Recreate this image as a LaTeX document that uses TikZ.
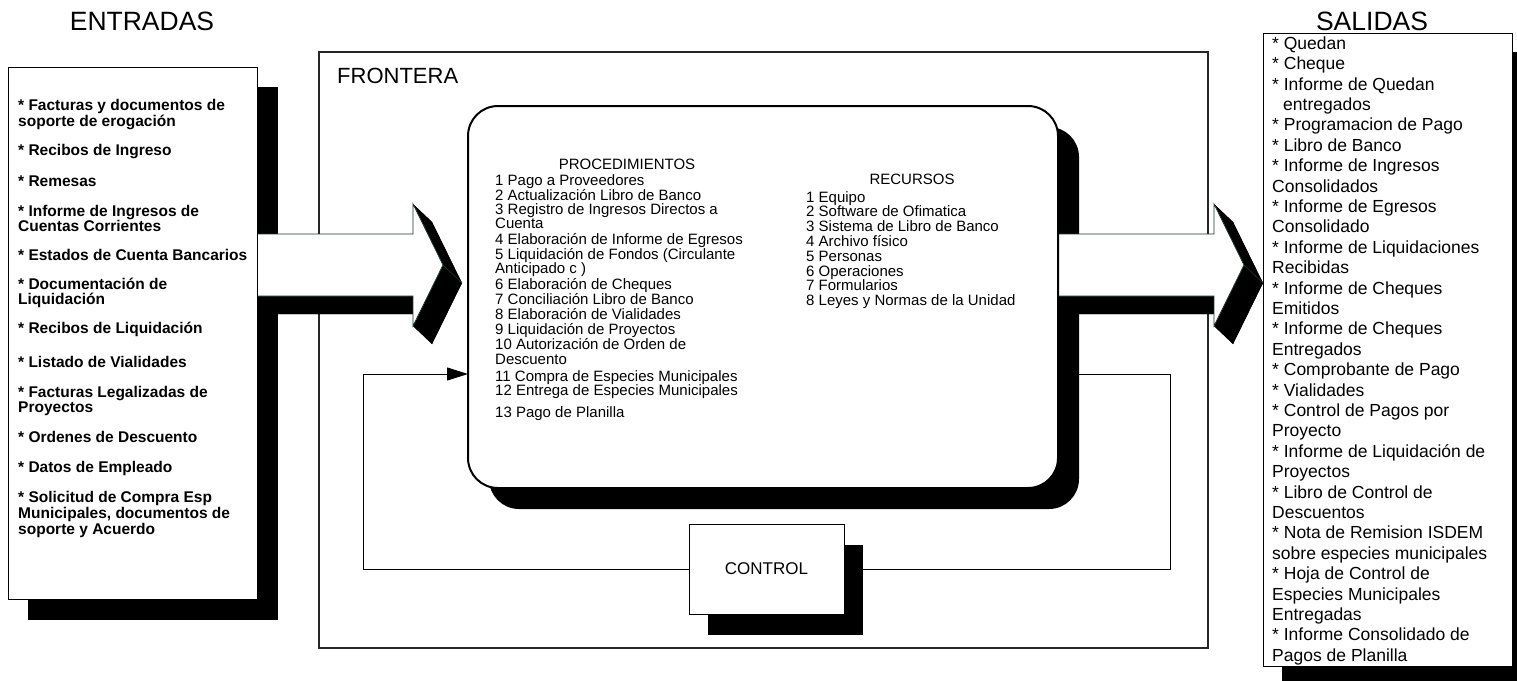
\documentclass[tikz,border=0pt]{standalone}
\usepackage{fontspec}
\setmainfont{Liberation Sans}
\usetikzlibrary{arrows.meta}
\definecolor{edgegreen}{RGB}{28,58,40}

% 3D block arrow: front face starts at x=#1 (shaft), barbs at x=#2
\newcommand\ioblockarrow[2]{%
  \foreach \ax/\ay/\bx/\by in {#1/234/#2/234, #2/234/#2/204, #2/204/#2+30/265,
      #2+30/265/#2/326, #2/326/#2/296, #2/296/#1/296, #1/296/#1/234}{%
    \fill[extrude] (\ax,\ay) -- (\bx,\by) -- (\bx+19,\by+18) -- (\ax+19,\ay+18) -- cycle;
  }%
  \fill[extrude] (#1+19,252) -- (#2+19,252) -- (#2+19,222) -- (#2+49,283)
      -- (#2+19,344) -- (#2+19,314) -- (#1+19,314) -- cycle;
  \draw[edgegreen, line width=0.6pt] (#2+30,265) -- (#2+49,283);
  \filldraw[arrowface] (#1,234) -- (#2,234) -- (#2,204) -- (#2+30,265)
      -- (#2,326) -- (#2,296) -- (#1,296) -- cycle;
}

\begin{document}
\begin{tikzpicture}[x=1pt,y=-1pt,
  box/.style={draw=black, fill=white, line width=1pt, anchor=north west,
    inner sep=0pt, outer sep=0pt},
  shadowfill/.style={fill=black},
  extrude/.style={fill=black},
  arrowface/.style={fill=white, draw=edgegreen, line width=0.8pt},
  title/.style={font=\fontsize{26.5}{28}\selectfont, inner sep=0pt},
  flabel/.style={font=\fontsize{22}{24}\selectfont, inner sep=0pt},
  intext/.style={font=\fontsize{15.5}{17}\selectfont\bfseries, anchor=west,
    inner sep=0pt, text height=11.1pt, text depth=0pt},
  proctext/.style={font=\fontsize{15}{16}\selectfont, anchor=west,
    inner sep=0pt, text height=10.7pt, text depth=0pt},
  outtext/.style={font=\fontsize{17.5}{19}\selectfont, anchor=west,
    inner sep=0pt, text height=12.5pt, text depth=0pt},
  feedback/.style={draw=black, line width=1pt}]

\useasboundingbox (0,0) rectangle (1517,680);

% titles
\node[title] (tin) at (142,21) {ENTRADAS};
\node[title] (tout) at (1372,21) {SALIDAS};

% system boundary
\node[box, draw=black!85, line width=1.3pt, fill=none,
  minimum width=889pt, minimum height=596pt] (frontera) at (319,52) {};
\node[flabel, anchor=base west] (fname) at (337,83) {FRONTERA};

% control loop
\node[box, minimum width=155pt, minimum height=90pt, draw=none, fill=none] (ctrlpos) at (689,524) {};
\coordinate (lp) at (363,374);
\coordinate (rp) at (1170,374);
\coordinate (procw) at (468,374);
\coordinate (proce) at (1058,374);
\draw[feedback] (ctrlpos.west) -| (lp);
\draw[feedback, -{Triangle[length=21pt,width=13pt]}] (lp) -- (procw);
\draw[feedback] (ctrlpos.east) -| (rp) -- (proce);

% shadows
\fill[shadowfill] (28,87) rectangle (278,620);
\fill[shadowfill, rounded corners=30pt] (489,127) rectangle (1079,509);
\fill[shadowfill] (708,545) rectangle (863,635);
\fill[shadowfill] (1282,52) rectangle (1531,690);

% block arrows into and out of the process
\ioblockarrow{257}{413}
\ioblockarrow{1058}{1214}

% boxes
\node[box, minimum width=249pt, minimum height=532pt] (inputs) at (8,67) {};
\node[box, line width=2pt, rounded corners=30pt,
  minimum width=590pt, minimum height=382pt] (proc) at (468,106) {};
\node[box, minimum width=155pt, minimum height=90pt] (ctrl) at (689,524) {};
\node[font=\fontsize{17}{19}\selectfont, inner sep=0pt] (ctrllabel) at (ctrl.center) {CONTROL};
\node[box, minimum width=249pt, minimum height=633pt] (outputs) at (1263,33) {};

% inputs
\foreach[count=\i] \yy/\txt in {
  105/{* Facturas y documentos de}, 121/{soporte de erogación},
  150/{* Recibos de Ingreso},
  181/{* Remesas},
  211/{* Informe de Ingresos de}, 226/{Cuentas Corrientes},
  255/{* Estados de Cuenta Bancarios},
  284/{* Documentación de}, 299/{Liquidación},
  328/{* Recibos de Liquidación},
  362/{* Listado de Vialidades},
  392/{* Facturas Legalizadas de}, 407/{Proyectos},
  437/{* Ordenes de Descuento},
  467/{* Datos de Empleado},
  497/{* Solicitud de Compra Esp}, 513/{Municipales, documentos de},
  529/{soporte y Acuerdo}}
  \node[intext] (in\i) at (18,\yy) {\txt};

% procedures
\node[proctext, anchor=center] (prochead) at (627,164) {PROCEDIMIENTOS};
\foreach[count=\i] \yy/\txt in {
  180/{1 Pago a Proveedores}, 195/{2 Actualización Libro de Banco},
  209/{3 Registro de Ingresos Directos a}, 223/{Cuenta},
  239/{4 Elaboración de Informe de Egresos},
  254/{5 Liquidación de Fondos (Circulante}, 268/{Anticipado c )},
  284/{6 Elaboración de Cheques}, 299/{7 Conciliación Libro de Banco},
  314/{8 Elaboración de Vialidades}, 329/{9 Liquidación de Proyectos},
  344/{10 Autorización de Orden de}, 359/{Descuento},
  376/{11 Compra de Especies Municipales},
  390/{12 Entrega de Especies Municipales},
  412/{13 Pago de Planilla}}
  \node[proctext] (pr\i) at (495,\yy) {\txt};

% resources
\node[proctext, anchor=center] (rechead) at (912,179) {RECURSOS};
\foreach[count=\i] \txt in {Equipo, Software de Ofimatica,
  Sistema de Libro de Banco, Archivo físico, Personas, Operaciones,
  Formularios, Leyes y Normas de la Unidad}
  \node[proctext] (rc\i) at (806,182+\i*14.8) {\i\ \txt};

% outputs
\foreach[count=\i] \txt in {
  * Quedan, * Cheque, * Informe de Quedan, \hspace*{11pt}entregados,
  * Programacion de Pago, * Libro de Banco, * Informe de Ingresos,
  Consolidados, * Informe de Egresos, Consolidado,
  * Informe de Liquidaciones, Recibidas, * Informe de Cheques, Emitidos,
  * Informe de Cheques, Entregados, * Comprobante de Pago, * Vialidades,
  * Control de Pagos por, Proyecto, * Informe de Liquidación de, Proyectos,
  * Libro de Control de, Descuentos, * Nota de Remision ISDEM,
  sobre especies municipales, * Hoja de Control de, Especies Municipales,
  Entregadas, * Informe Consolidado de, Pagos de Planilla}
  \node[outtext] (out\i) at (1272,43+\i*20.4-20.4) {\txt};

\end{tikzpicture}
\end{document}
